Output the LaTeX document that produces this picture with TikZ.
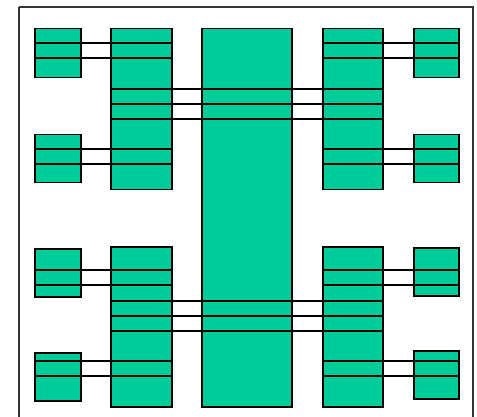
\documentclass[tikz,border=0pt]{standalone}
\definecolor{boxgreen}{RGB}{0,204,153}
\tikzset{
  blk/.style={draw=black, fill=boxgreen, line width=1.5pt, inner sep=0pt, anchor=north west},
  wire/.style={draw=black, line width=2pt},
}
\begin{document}
\begin{tikzpicture}[x=1pt,y=-1pt]
\useasboundingbox (0,0) rectangle (477,417);
\draw[line width=1.5pt, black!80] (19,7) -- (473,7) -- (473,425) (19,7) -- (19,425);
% left small boxes
\node[blk, minimum width=46pt, minimum height=49pt] (LT1) at (34,28) {};
\node[blk, minimum width=46pt, minimum height=48pt] (LT2) at (34,134) {};
\node[blk, minimum width=46pt, minimum height=48pt] (LB1) at (34,248) {};
\node[blk, minimum width=46pt, minimum height=48pt] (LB2) at (34,352) {};
% left columns
\node[blk, minimum width=61pt, minimum height=161pt] (LCT) at (110,28) {};
\node[blk, minimum width=61pt, minimum height=160pt] (LCB) at (110,246) {};
% central
\node[blk, minimum width=90pt, minimum height=378pt] (C) at (201,28) {};
% right columns
\node[blk, minimum width=60pt, minimum height=161pt] (RCT) at (322,28) {};
\node[blk, minimum width=60pt, minimum height=160pt] (RCB) at (322,246) {};
% right small boxes
\node[blk, minimum width=45pt, minimum height=49pt] (RT1) at (413,28) {};
\node[blk, minimum width=45pt, minimum height=48pt] (RT2) at (413,134) {};
\node[blk, minimum width=45pt, minimum height=48pt] (RB1) at (413,247) {};
\node[blk, minimum width=45pt, minimum height=48pt] (RB2) at (413,350) {};
% wires
\foreach \y in {43,58} {
  \draw[wire] (LT1.west |- 0,\y) -- (LCT.east |- 0,\y);
  \draw[wire] (RCT.west |- 0,\y) -- (RT1.east |- 0,\y);
}
\foreach \y in {149,164} {
  \draw[wire] (LT2.west |- 0,\y) -- (LCT.east |- 0,\y);
  \draw[wire] (RCT.west |- 0,\y) -- (RT2.east |- 0,\y);
}
\foreach \y in {89,104,119} {
  \draw[wire] (LCT.west |- 0,\y) -- (RCT.east |- 0,\y);
}
\foreach \y in {270,285} {
  \draw[wire] (LB1.west |- 0,\y) -- (LCB.east |- 0,\y);
  \draw[wire] (RCB.west |- 0,\y) -- (RB1.east |- 0,\y);
}
\foreach \y in {301,316,331} {
  \draw[wire] (LCB.west |- 0,\y) -- (RCB.east |- 0,\y);
}
\foreach \y in {361,376} {
  \draw[wire] (LB2.west |- 0,\y) -- (LCB.east |- 0,\y);
  \draw[wire] (RCB.west |- 0,\y) -- (RB2.east |- 0,\y);
}
\end{tikzpicture}
\end{document}
